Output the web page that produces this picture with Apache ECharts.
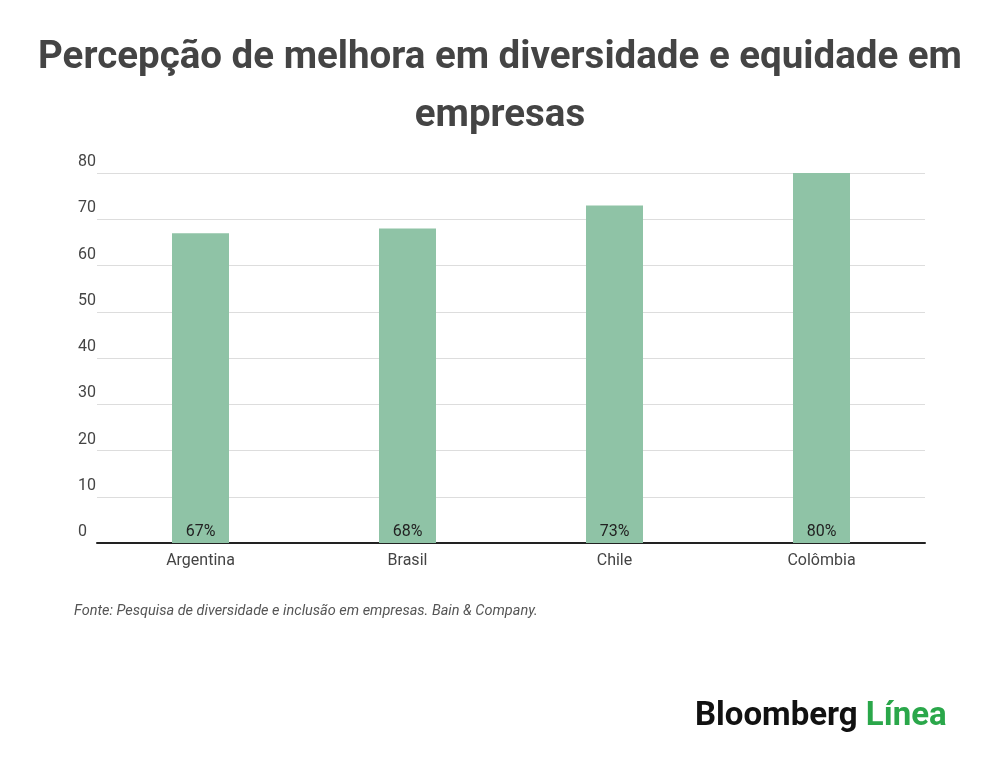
<!DOCTYPE html>
<html><head><meta charset="utf-8">
<script src="https://cdn.jsdelivr.net/npm/echarts@6/dist/echarts.min.js"></script>
<style>html,body{margin:0;background:#fff}#c{width:1000px;height:761px}</style>
</head><body><div id="c"></div>
<script>
var countries = ['Argentina', 'Brasil', 'Chile', 'Colômbia'];
var values = [67, 68, 73, 80];

var chart = echarts.init(document.getElementById('c'));
chart.setOption({
    textStyle: {fontFamily: 'Roboto'},
    title: {
        text: 'Percepção de melhora em diversidade e equidade em\nempresas',
        left: 'center', top: 24,
        textStyle: {fontSize: 38.5, fontWeight: 'bold', color: '#444', lineHeight: 58, fontFamily: 'Roboto'}
    },
    grid: {left: 97, right: 75, top: 173, bottom: 218},
    xAxis: {
        type: 'category', data: countries,
        axisLine: {lineStyle: {color: '#222', width: 2}},
        axisTick: {show: false},
        axisLabel: {color: '#444', fontSize: 16, margin: 10}
    },
    yAxis: {
        type: 'value', min: 0, max: 80, interval: 10,
        axisLine: {show: false}, axisTick: {show: false},
        axisLabel: {color: '#444', fontSize: 16, align: 'left', verticalAlign: 'bottom', margin: 19, padding: [0, 0, 3, 0]},
        splitLine: {lineStyle: {color: '#ddd'}}
    },
    series: [{
        type: 'bar', data: values, barWidth: 57,
        itemStyle: {color: '#8fc3a6'},
        label: {show: true, position: 'insideBottom', formatter: '{c}%', color: '#222', fontSize: 16, distance: 3}
    }],
    graphic: [
        {type: 'text', left: 74, top: 604, style: {text: 'Fonte: Pesquisa de diversidade e inclusão em empresas. Bain & Company.', fontSize: 14.5, fontStyle: 'italic', fill: '#555', fontFamily: 'Roboto'}},
        {type: 'text', left: 695, top: 700, style: {
            rich: {a: {fontSize: 33, fontWeight: 'bold', fill: '#111', fontFamily: 'Roboto'},
                   b: {fontSize: 33, fontWeight: 'bold', fill: '#2aa74a', fontFamily: 'Roboto'}},
            text: '{a|Bloomberg }{b|Línea}'}}
    ]
});
</script></body></html>
